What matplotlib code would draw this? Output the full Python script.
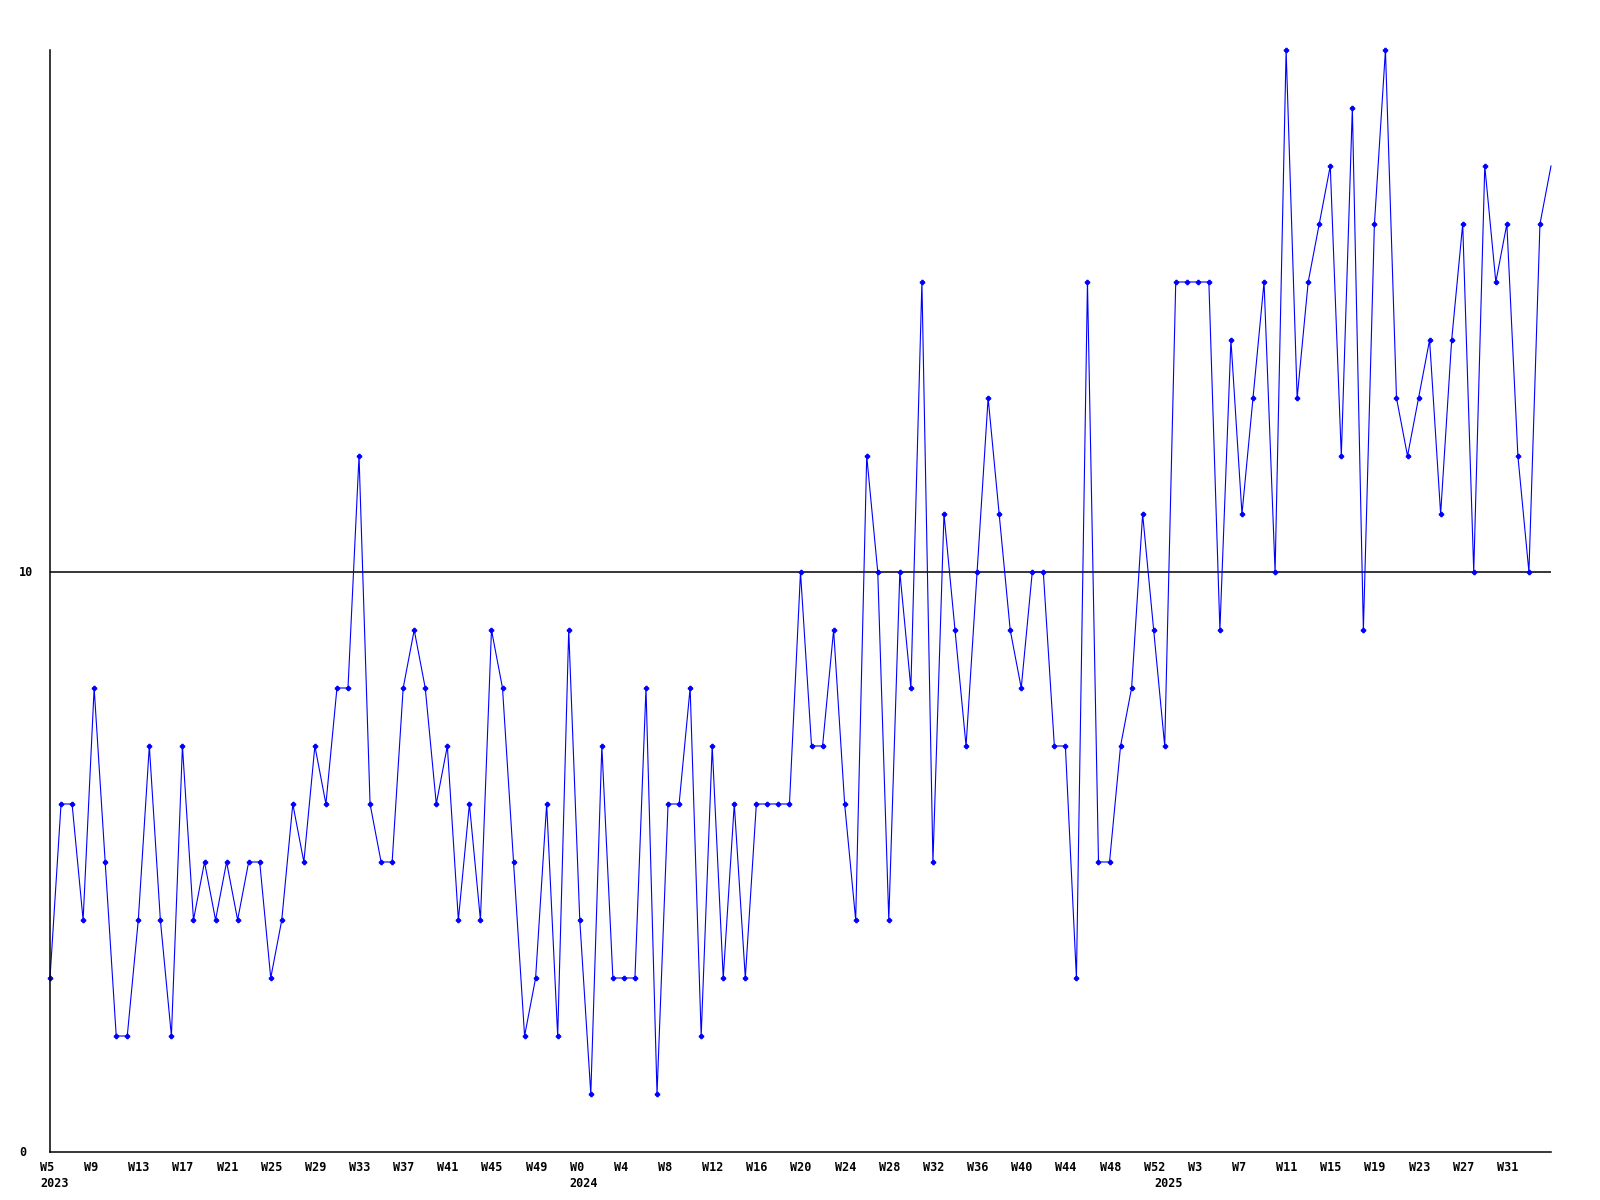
import matplotlib
matplotlib.use("Agg")
import matplotlib.pyplot as plt
from matplotlib.transforms import ScaledTranslation

# weekly counts, 2023 W5 .. 2025 W35
years = [2023] * 48 + [2024] * 53 + [2025] * 36
weeks = list(range(5, 53)) + list(range(0, 53)) + list(range(0, 36))
values = [
    3, 6, 6, 4, 8, 5, 2, 2, 4, 7,
    4, 2, 7, 4, 5, 4, 5, 4, 5, 5,
    3, 4, 6, 5, 7, 6, 8, 8, 12, 6,
    5, 5, 8, 9, 8, 6, 7, 4, 6, 4,
    9, 8, 5, 2, 3, 6, 2, 9, 4, 1,
    7, 3, 3, 3, 8, 1, 6, 6, 8, 2,
    7, 3, 6, 3, 6, 6, 6, 6, 10, 7,
    7, 9, 6, 4, 12, 10, 4, 10, 8, 15,
    5, 11, 9, 7, 10, 13, 11, 9, 8, 10,
    10, 7, 7, 3, 15, 5, 5, 7, 8, 11,
    9, 7, 15, 15, 15, 15, 9, 14, 11, 13,
    15, 10, 19, 13, 15, 16, 17, 12, 18, 9,
    16, 19, 13, 12, 13, 14, 11, 14, 16, 10,
    17, 15, 16, 12, 10, 16, 17,
]
y_ticks = [0, 10]

fig = plt.figure(figsize=(16, 12), dpi=100)
ax = fig.add_axes([50 / 1600, 48 / 1200, 1501 / 1600, 1102 / 1200])

x = list(range(len(values)))
ax.plot(x, values, color="#0000ff", lw=0.8, marker="P", markersize=3,
        markevery=slice(0, len(values) - 1), clip_on=False)
ax.axhline(10, color="black", lw=1.1, zorder=1)

ax.set_xlim(0, len(values) - 1)
ax.set_ylim(0, 19)
ax.set_xticks([])
ax.set_yticks([])

font = dict(family="DejaVu Sans Mono", fontweight="bold", fontsize=8.5)
xt = ax.get_xaxis_transform()
row1 = xt + ScaledTranslation(-10 / 100, -9 / 100, fig.dpi_scale_trans)
row2 = xt + ScaledTranslation(-10 / 100, -25 / 100, fig.dpi_scale_trans)

# week labels every 4 weeks
for i in range(0, len(values) - 1, 4):
    ax.text(i, 0, "W%d" % weeks[i], transform=row1, ha="left", va="top", **font)

# year under the first week of each year
for i in range(len(years)):
    if i == 0 or years[i] != years[i - 1]:
        ax.text(i, 0, str(years[i]), transform=row2, ha="left", va="top", **font)

yt = ax.get_yaxis_transform()
for v in y_ticks:
    ax.text(0, v, str(v), ha="left", va="center",
            transform=yt + ScaledTranslation(-31 / 100, 0, fig.dpi_scale_trans), **font)

for side in ["top", "right"]:
    ax.spines[side].set_visible(False)
for side in ["left", "bottom"]:
    ax.spines[side].set_color("black")
    ax.spines[side].set_linewidth(1.1)

fig.savefig("out.png", dpi=100)
